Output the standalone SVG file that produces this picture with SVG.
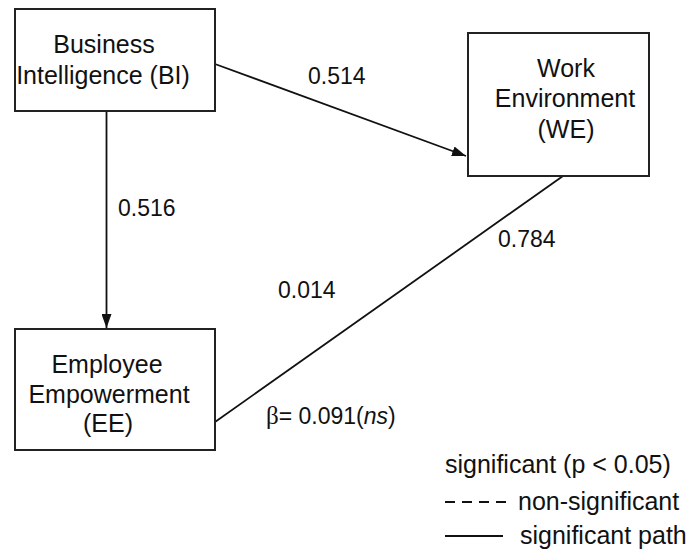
<svg xmlns="http://www.w3.org/2000/svg" width="693" height="560" viewBox="0 0 693 560">
<style>
.box{fill:#fff;stroke:#222;stroke-width:2}
.lbl{font-family:"Liberation Sans",Arial,sans-serif;font-size:25px;fill:#111;text-anchor:middle}
.num{font-family:"Liberation Sans",Arial,sans-serif;font-size:23px;fill:#111}
.leg{font-family:"Liberation Sans",Arial,sans-serif;font-size:25px;fill:#111}
.edge{stroke:#111;stroke-width:1.8;fill:none}
</style>
<defs>
<marker id="arr" viewBox="0 0 14 10" refX="14" refY="5" markerWidth="14" markerHeight="10" markerUnits="userSpaceOnUse" orient="auto">
<path d="M0,0 L14,5 L0,10 z" fill="#111"/>
</marker>
</defs>
<rect width="693" height="560" fill="#fff"/>
<g id="connectors">
<line class="edge" x1="106.5" y1="111" x2="106.5" y2="328" marker-end="url(#arr)"/>
<line class="edge" x1="215" y1="64" x2="466" y2="156" marker-end="url(#arr)"/>
<line class="edge" x1="563" y1="176" x2="215" y2="422"/>
</g>
<g id="BI">
<rect class="box" x="15" y="9" width="200" height="102"/>
<text class="lbl" x="104" y="53">Business</text>
<text class="lbl" x="103" y="84">Intelligence (BI)</text>
</g>
<g id="WE">
<rect class="box" x="468" y="33" width="181" height="143"/>
<text class="lbl" x="566" y="77">Work</text>
<text class="lbl" x="565" y="107">Environment</text>
<text class="lbl" x="566" y="138">(WE)</text>
</g>
<g id="EE">
<rect class="box" x="15" y="329" width="200" height="121"/>
<text class="lbl" x="107" y="373">Employee</text>
<text class="lbl" x="109" y="403">Empowerment</text>
<text class="lbl" x="108" y="432">(EE)</text>
</g>
<g id="labels">
<text class="num" x="308" y="84">0.514</text>
<text class="num" x="118" y="216">0.516</text>
<text class="num" x="498" y="247">0.784</text>
<text class="num" x="278" y="298">0.014</text>
<text class="num" x="266" y="424"><tspan font-family="'Liberation Serif',serif" font-size="25">β</tspan>= 0.091(<tspan font-style="italic">ns</tspan>)</text>
</g>
<g id="legend">
<text class="leg" x="445" y="473">significant (p &lt; 0.05)</text>
<line x1="445" y1="502" x2="507" y2="502" stroke="#111" stroke-width="1.8" stroke-dasharray="10 7"/>
<text class="leg" x="518" y="510">non-significant</text>
<line x1="445" y1="536" x2="503" y2="536" stroke="#111" stroke-width="1.8"/>
<text class="leg" x="520" y="544">significant path</text>
</g>
</svg>
